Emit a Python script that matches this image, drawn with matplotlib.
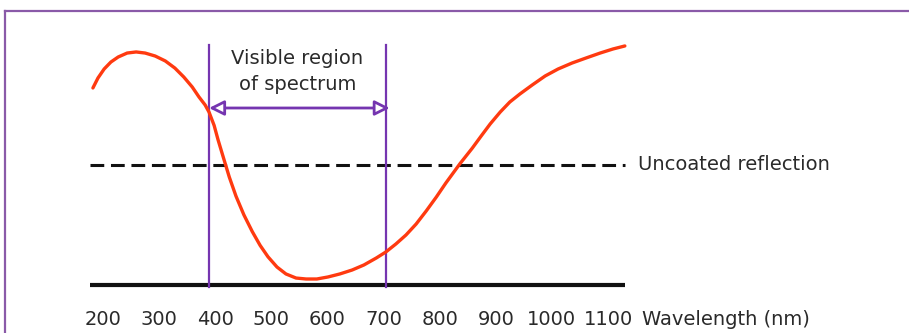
import matplotlib
matplotlib.use("Agg")
import matplotlib.pyplot as plt

# Data (wavelength in nm, relative reflection; uncoated reflection = 1)
wavelength = [182, 191, 202, 214, 227, 243, 259, 275, 293, 311, 328, 344, 359, 371,
              382, 389, 398, 405, 414, 425, 437, 451, 466, 480, 494, 510, 526, 544,
              562, 581, 601, 622, 644, 665, 687, 704, 722, 740, 758, 776, 794, 811,
              836, 858, 874, 890, 908, 925, 943, 965, 988, 1011, 1036, 1061, 1086,
              1109, 1130]
reflection = [1.642, 1.725, 1.80, 1.858, 1.90, 1.933, 1.942, 1.933, 1.908, 1.867,
              1.808, 1.733, 1.65, 1.567, 1.50, 1.44, 1.33, 1.21, 1.07, 0.90,
              0.74, 0.585, 0.445, 0.33, 0.235, 0.15, 0.092, 0.058, 0.05, 0.05,
              0.067, 0.092, 0.125, 0.167, 0.225, 0.275, 0.342, 0.417, 0.508, 0.617,
              0.733, 0.85, 1.01, 1.14, 1.242, 1.342, 1.442, 1.525, 1.592, 1.667,
              1.742, 1.80, 1.85, 1.892, 1.933, 1.967, 1.992]
tick_values = [200, 300, 400, 500, 600, 700, 800, 900, 1000, 1100]
tick_labels = ["200", "300", "400", "500", "600", "700", "800", "900", "1000", "1100"]
visible_range = [389, 704]
uncoated_level = 1.0
line_range = [177, 1130]

fig = plt.figure(figsize=(9.09, 3.33), dpi=100)
ax = fig.add_axes([0, 0, 1, 1])
ax.set_xlim(16.4, 1636.4)
ax.set_ylim(-0.4, 2.375)
ax.axis("off")

purple = "#7535b0"
txt = "#2a2a2a"
fs = 14
# frame
ax.plot([5/909, 1], [1 - 11/333, 1 - 11/333], transform=ax.transAxes, color="#8a5aa8", lw=1.6, clip_on=False)
ax.plot([5/909, 5/909], [0, 1 - 11/333], transform=ax.transAxes, color="#8a5aa8", lw=1.6, clip_on=False)

# reference lines
ax.plot(line_range, [0, 0], color="#111111", lw=3.0, solid_capstyle="butt")
ax.plot(line_range, [uncoated_level, uncoated_level], color="#111111", lw=2.2,
        dashes=(4.5, 2.2))

# visible region lines
for v in visible_range:
    ax.plot([v, v], [-0.017, 2.0], color=purple, lw=1.6)

# curve
ax.plot(wavelength, reflection, color="#ff3a10", lw=2.4, solid_capstyle="round",
        solid_joinstyle="round")

# arrow
ax.annotate("", xy=(visible_range[0], 1.475), xytext=(visible_range[1] + 7, 1.475),
            arrowprops=dict(arrowstyle="<|-|>,head_length=0.9,head_width=0.45",
                            fc="white", ec=purple, lw=2.0, shrinkA=0, shrinkB=0))

mid = (visible_range[0] + visible_range[1]) / 2
ax.text(mid, 1.89, "Visible region", ha="center", va="center", fontsize=fs, color=txt)
ax.text(mid, 1.67, "of spectrum", ha="center", va="center", fontsize=fs, color=txt)

ax.text(line_range[1] + 24, uncoated_level, "Uncoated reflection", ha="left", va="center",
        fontsize=fs, color=txt)

for tv, tl in zip(tick_values, tick_labels):
    ax.text(tv, -0.29, tl, ha="center", va="center", fontsize=fs, color=txt)
ax.text(1160, -0.29, "Wavelength (nm)", ha="left", va="center", fontsize=fs, color=txt)

fig.savefig("out.png", dpi=100)
